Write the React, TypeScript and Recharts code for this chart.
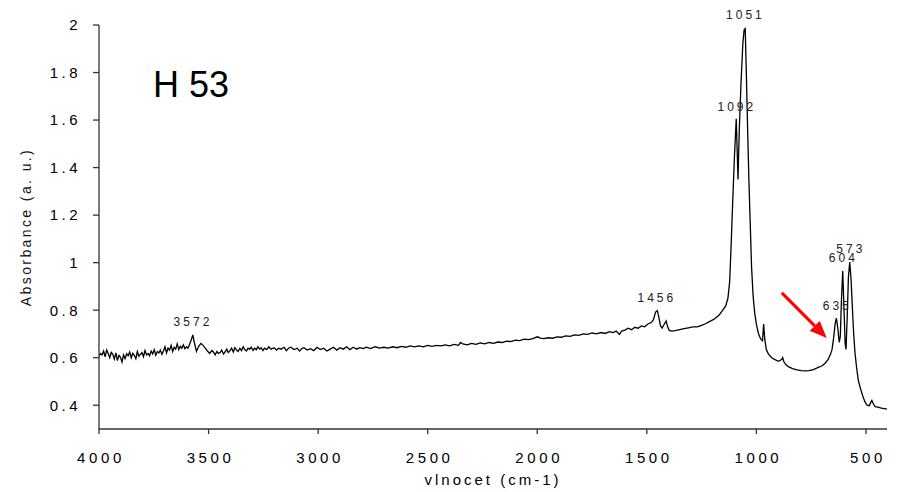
import React from 'react';
import { LineChart, Line, XAxis, YAxis, ReferenceDot, ReferenceLine } from 'recharts';

// [wavenumber cm-1, absorbance]
const spectrum: [number, number][] = [
  [4000, 0.606], [3993, 0.618], [3986, 0.612], [3979, 0.628], [3972, 0.604], [3965, 0.632],
  [3958, 0.618], [3951, 0.600], [3944, 0.622], [3937, 0.614], [3930, 0.594], [3923, 0.620],
  [3916, 0.588], [3909, 0.610], [3902, 0.602], [3895, 0.582], [3888, 0.612], [3881, 0.596],
  [3874, 0.616], [3867, 0.608], [3860, 0.624], [3853, 0.600], [3846, 0.618], [3839, 0.610],
  [3832, 0.596], [3825, 0.626], [3818, 0.606], [3811, 0.614], [3804, 0.622], [3797, 0.604],
  [3790, 0.630], [3783, 0.612], [3776, 0.618], [3769, 0.608], [3762, 0.628], [3755, 0.616],
  [3748, 0.634], [3741, 0.610], [3734, 0.626], [3727, 0.620], [3720, 0.632], [3713, 0.614],
  [3706, 0.628], [3699, 0.646], [3692, 0.620], [3685, 0.640], [3678, 0.632], [3671, 0.652],
  [3664, 0.626], [3657, 0.644], [3650, 0.636], [3643, 0.658], [3636, 0.634], [3629, 0.648],
  [3622, 0.640], [3615, 0.654], [3608, 0.638], [3601, 0.646], [3594, 0.640], [3587, 0.656],
  [3580, 0.672], [3572, 0.696], [3565, 0.664], [3555, 0.626], [3545, 0.648], [3535, 0.660],
  [3525, 0.652], [3515, 0.640], [3505, 0.628], [3495, 0.618], [3485, 0.630], [3478, 0.624],
  [3470, 0.612], [3462, 0.626], [3455, 0.618], [3447, 0.622], [3440, 0.632], [3432, 0.616],
  [3425, 0.624], [3417, 0.636], [3410, 0.622], [3402, 0.630], [3395, 0.640], [3387, 0.624],
  [3380, 0.642], [3372, 0.632], [3365, 0.626], [3357, 0.640], [3350, 0.630], [3342, 0.646],
  [3335, 0.634], [3327, 0.628], [3320, 0.640], [3312, 0.636], [3305, 0.644], [3297, 0.630],
  [3290, 0.640], [3282, 0.634], [3275, 0.646], [3267, 0.636], [3260, 0.642], [3252, 0.630],
  [3245, 0.640], [3235, 0.634], [3225, 0.646], [3215, 0.636], [3200, 0.642], [3190, 0.632],
  [3180, 0.640], [3170, 0.636], [3155, 0.644], [3145, 0.630], [3135, 0.640], [3125, 0.644],
  [3110, 0.634], [3095, 0.640], [3085, 0.628], [3075, 0.638], [3065, 0.642], [3050, 0.632],
  [3035, 0.638], [3020, 0.630], [3005, 0.644], [2990, 0.634], [2975, 0.640], [2960, 0.628],
  [2945, 0.636], [2930, 0.644], [2915, 0.632], [2900, 0.642], [2885, 0.636], [2870, 0.646],
  [2855, 0.634], [2840, 0.644], [2825, 0.636], [2810, 0.642], [2795, 0.638], [2780, 0.644],
  [2760, 0.638], [2740, 0.646], [2720, 0.640], [2700, 0.644], [2680, 0.640], [2660, 0.646],
  [2640, 0.642], [2620, 0.648], [2600, 0.644], [2580, 0.650], [2560, 0.646], [2540, 0.650],
  [2520, 0.646], [2500, 0.652], [2480, 0.648], [2460, 0.652], [2440, 0.650], [2420, 0.654],
  [2400, 0.650], [2380, 0.656], [2360, 0.652], [2350, 0.664], [2340, 0.658], [2320, 0.654],
  [2300, 0.660], [2280, 0.656], [2260, 0.662], [2240, 0.658], [2220, 0.664], [2200, 0.660],
  [2180, 0.666], [2160, 0.664], [2140, 0.670], [2120, 0.668], [2100, 0.674], [2080, 0.672],
  [2060, 0.678], [2040, 0.676], [2020, 0.680], [2000, 0.688], [1985, 0.682], [1970, 0.680],
  [1950, 0.684], [1930, 0.682], [1910, 0.688], [1890, 0.686], [1870, 0.692], [1850, 0.690],
  [1830, 0.696], [1810, 0.694], [1790, 0.700], [1770, 0.698], [1750, 0.704], [1730, 0.700],
  [1710, 0.706], [1690, 0.702], [1670, 0.710], [1655, 0.706], [1640, 0.712], [1625, 0.698],
  [1615, 0.712], [1600, 0.716], [1585, 0.724], [1570, 0.718], [1555, 0.728], [1540, 0.724],
  [1525, 0.734], [1510, 0.730], [1495, 0.742], [1480, 0.748], [1470, 0.760], [1460, 0.792],
  [1452, 0.798], [1445, 0.770], [1438, 0.735], [1430, 0.725], [1420, 0.742], [1412, 0.755],
  [1405, 0.730], [1398, 0.715], [1385, 0.712], [1370, 0.714], [1350, 0.718], [1330, 0.722],
  [1310, 0.726], [1290, 0.730], [1270, 0.730], [1250, 0.736], [1230, 0.744], [1210, 0.754],
  [1190, 0.764], [1170, 0.780], [1155, 0.798], [1140, 0.818], [1130, 0.850], [1122, 0.920],
  [1115, 1.080], [1108, 1.260], [1100, 1.450], [1092, 1.605], [1088, 1.480], [1084, 1.350],
  [1078, 1.560], [1070, 1.760], [1062, 1.920], [1056, 1.980], [1051, 1.985], [1046, 1.800],
  [1040, 1.560], [1034, 1.340], [1028, 1.160], [1022, 0.980], [1015, 0.860], [1008, 0.790],
  [1000, 0.740], [990, 0.700], [980, 0.678], [972, 0.672], [967, 0.742], [962, 0.680],
  [955, 0.635], [945, 0.615], [930, 0.600], [915, 0.592], [900, 0.585], [885, 0.592],
  [880, 0.600], [875, 0.584], [865, 0.570], [850, 0.560], [835, 0.554], [815, 0.549],
  [795, 0.546], [780, 0.545], [760, 0.546], [740, 0.550], [720, 0.558], [700, 0.566],
  [685, 0.578], [672, 0.594], [662, 0.614], [655, 0.634], [648, 0.680], [641, 0.740],
  [635, 0.767], [628, 0.720], [622, 0.665], [617, 0.690], [612, 0.840], [606, 0.965],
  [600, 0.800], [595, 0.660], [591, 0.635], [586, 0.760], [580, 0.940], [574, 1.003],
  [568, 0.930], [562, 0.810], [556, 0.700], [550, 0.620], [543, 0.560], [535, 0.505],
  [525, 0.470], [515, 0.440], [505, 0.415], [495, 0.400], [485, 0.398], [478, 0.412],
  [473, 0.420], [466, 0.405], [458, 0.394], [445, 0.392], [430, 0.388], [415, 0.386],
  [404, 0.384],
];

const xTicks = [4000, 3500, 3000, 2500, 2000, 1500, 1000, 500];
const yTicks = [0.4, 0.6, 0.8, 1, 1.2, 1.4, 1.6, 1.8, 2];

// peak label text, anchored at [wavenumber, absorbance] of the label baseline
const peakLabels: { text: string; wn: number; a: number }[] = [
  { text: '1051', wn: 1057, a: 2.026 },
  { text: '1092', wn: 1096, a: 1.639 },
  { text: '3572', wn: 3578, a: 0.734 },
  { text: '1456', wn: 1461, a: 0.835 },
  { text: '635', wn: 638, a: 0.801 },
  { text: '604', wn: 610, a: 1.003 },
  { text: '573', wn: 576, a: 1.041 },
];

const arrowFrom = { wn: 884, a: 0.873 };
const arrowTo = { wn: 679, a: 0.683 };

const data = spectrum.map(([wn, a]) => ({ wn, a }));
const FONT = '"Liberation Sans", Arial, sans-serif';

const PeakText = (text: string) => (props: any) => (
  <text x={props.cx + 1.5} y={props.cy} textAnchor="middle" fontFamily={FONT} fontSize={12}
    letterSpacing={3} fill="#222">
    {text}
  </text>
);

const Arrow = (props: any) => {
  const { x1, y1, x2, y2 } = props;
  const ang = Math.atan2(y2 - y1, x2 - x1);
  const len = 17;
  const half = 7;
  const bx = x2 - len * Math.cos(ang);
  const by = y2 - len * Math.sin(ang);
  const px = -Math.sin(ang) * half;
  const py = Math.cos(ang) * half;
  return (
    <g>
      <line x1={x1} y1={y1} x2={bx} y2={by} stroke="#ff0000" strokeWidth={3} />
      <polygon points={`${x2},${y2} ${bx + px},${by + py} ${bx - px},${by - py}`} fill="#ff0000" />
    </g>
  );
};

export default function App() {
  return (
    <div style={{ position: 'absolute', left: 0, top: 0, width: 897, height: 492, background: '#fff' }}>
      <LineChart width={897} height={492} data={data} margin={{ top: 25, right: 10, left: 39, bottom: 0 }}>
        <XAxis
          dataKey="wn"
          type="number"
          domain={[404, 4000]}
          reversed
          ticks={xTicks}
          allowDataOverflow
          height={63}
          tickSize={5}
          tickMargin={18}
          stroke="#333"
          strokeWidth={1.3}
          tick={{ fill: '#000', fontSize: 15, fontFamily: FONT, letterSpacing: 3.6, dx: 2 }}
          label={{
            value: 'vlnocet (cm-1)',
            position: 'insideBottom',
            offset: 7,
            fill: '#000',
            fontSize: 15,
            fontFamily: FONT,
            letterSpacing: 3,
          }}
        />
        <YAxis
          type="number"
          domain={[0.3, 2]}
          ticks={yTicks}
          allowDataOverflow
          width={60}
          tickSize={6}
          tickMargin={12}
          stroke="#333"
          strokeWidth={1.3}
          tick={{ fill: '#000', fontSize: 15, fontFamily: FONT, letterSpacing: 3.5 }}
          label={{
            content: () => (
              <text x={31} y={227} transform="rotate(-90 31 227)" textAnchor="middle" fontFamily={FONT}
                fontSize={14} letterSpacing={2.4} fill="#111">
                Absorbance (a. u.)
              </text>
            ),
          }}
        />
        <Line
          dataKey="a"
          type="linear"
          stroke="#000"
          strokeWidth={1.3}
          dot={false}
          isAnimationActive={false}
        />
        <ReferenceDot
          x={3754}
          y={1.698}
          r={0}
          ifOverflow="visible"
          shape={(p: any) => (
            <text x={p.cx} y={p.cy} fontFamily={FONT} fontSize={36} fill="#000">H 53</text>
          )}
        />
        {peakLabels.map((l) => (
          <ReferenceDot key={l.text} x={l.wn} y={l.a} r={0} ifOverflow="visible" shape={PeakText(l.text)} />
        ))}
        <ReferenceLine
          segment={[{ x: arrowFrom.wn, y: arrowFrom.a }, { x: arrowTo.wn, y: arrowTo.a }]}
          ifOverflow="visible"
          shape={Arrow}
        />
      </LineChart>
    </div>
  );
}
